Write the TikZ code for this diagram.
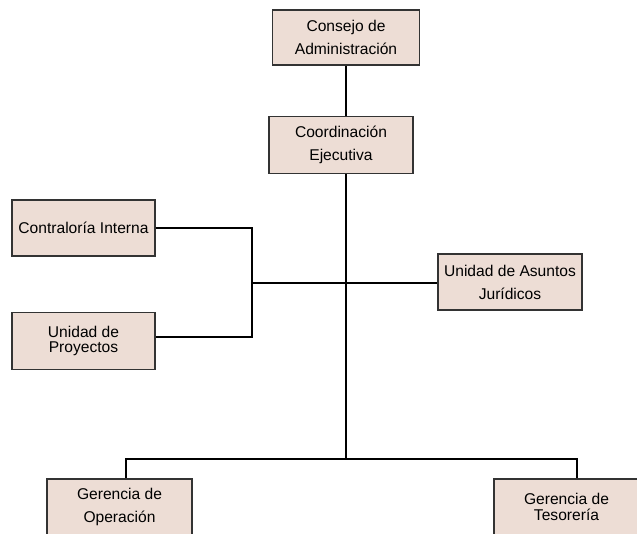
\documentclass[tikz,border=0pt]{standalone}
\usepackage{fontspec}
\setmainfont{Liberation Sans}
\definecolor{boxfill}{HTML}{EDDDD5}
\definecolor{boxline}{HTML}{333333}
\begin{document}
\begin{tikzpicture}[x=1pt, y=-1pt,
  every node/.style={font=\fontsize{15.6}{23}\selectfont},
  unit/.style={draw=boxline, fill=boxfill, line width=1.1pt, align=center, inner sep=0pt},
  link/.style={line width=1.2pt, black}]
  \clip (0,0) rectangle (637,534);
  % top of the chart
  \node[unit, minimum width=147, minimum height=55] (consejo) at (346,37.5) {Consejo de\\Administración};
  \node[unit, minimum width=144, minimum height=57] (coord) at (341,145) {Coordinación\\Ejecutiva};
  % staff units
  \node[unit, minimum width=143, minimum height=56] (contra) at (83.5,228) {Contraloría Interna};
  \node[unit, minimum width=143, minimum height=57, font=\fontsize{15.6}{15.5}\selectfont] (proy) at (83.5,341) {Unidad de\\Proyectos};
  \node[unit, minimum width=144, minimum height=56] (juri) at (510,282) {Unidad de Asuntos\\Jurídicos};
  % line units
  \node[unit, minimum width=145, minimum height=56] (oper) at (119.5,507) {Gerencia de\\Operación};
  \node[unit, minimum width=145, minimum height=56, font=\fontsize{15.6}{15.5}\selectfont] (teso) at (566.5,507) {Gerencia de\\Tesorería};
  \coordinate (hub) at (346,283); \coordinate (lbus) at (252,283); \coordinate (bus) at (346,459);
  % connectors
  \draw[link] (consejo.south) -- (consejo.south |- coord.north);
  \draw[link] (coord.south -| bus) -- (bus);
  \draw[link] (lbus) -- (juri.west |- hub);
  \draw[link] (contra.east) -| (lbus) |- ([yshift=4pt]proy.east);
  \draw[link] ([xshift=6.5pt]oper.north) |- (bus) -| ([xshift=10.5pt]teso.north);
\end{tikzpicture}
\end{document}
